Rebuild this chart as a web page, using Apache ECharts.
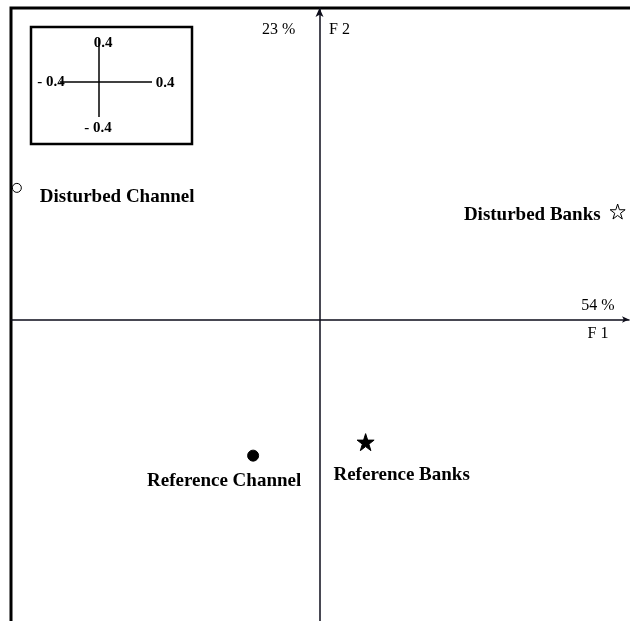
<!DOCTYPE html>
<html>
<head>
<meta charset="utf-8">
<script src="https://cdn.jsdelivr.net/npm/echarts@6/dist/echarts.min.js"></script>
<style>
  html, body { margin: 0; padding: 0; background: #fff; }
  #chart { width: 630px; height: 621px; }
</style>
</head>
<body>
<div id="chart"></div>
<script>
// site scores on the first two factorial axes
const sites = ['Disturbed Channel', 'Disturbed Banks', 'Reference Channel', 'Reference Banks']
const f1 = [-2.69, 2.65, -0.59, 0.41]
const f2 = [1.17, 0.96, -1.21, -1.09]
const axisNames = ['F 1', 'F 2']
const inertia = ['54 %', '23 %']
const scaleTicks = ['0.4', '- 0.4', '0.4', '- 0.4'] // top, left, right, bottom

const serif = '"Liberation Serif", "Times New Roman", serif'
const ink = '#0d0d1a'

const starPath = 'path://M50,0 L61.8,35.4 L98.9,35.4 L68.9,57.3 L80.4,92.7 L50,70.8 L19.6,92.7 L31.1,57.3 L1.1,35.4 L38.2,35.4 Z'

// marker + label look per site
const looks = [
  { symbol: 'circle', size: 9, fill: '#fff', align: 'left', offset: [23, 9] },
  { symbol: starPath, size: 15, fill: '#fff', align: 'right', offset: [-17, 4] },
  { symbol: 'circle', size: 11, fill: '#000', align: 'center', offset: [-29, 25] },
  { symbol: starPath, size: 17, fill: '#000', align: 'center', offset: [36, 33] }
]

const points = sites.map(function(name, i) {
  const lk = looks[i]
  return {
    name: name,
    value: [f1[i], f2[i]],
    symbol: lk.symbol,
    symbolSize: lk.size,
    itemStyle: { color: lk.fill, borderColor: '#000', borderWidth: 1, opacity: 1 },
    label: {
      show: true,
      position: 'inside',
      formatter: '{b}',
      align: lk.align,
      verticalAlign: 'middle',
      offset: lk.offset,
      color: '#000',
      opacity: 1,
      fontFamily: serif,
      fontWeight: 'bold',
      fontSize: 19
    }
  }
})

const chart = echarts.init(document.getElementById('chart'))

chart.setOption({
  animation: false,
  backgroundColor: '#fff',
  grid: { left: 11, top: 8, right: 1, bottom: 0 },
  xAxis: {
    type: 'value',
    min: -2.742,
    max: 2.751,
    splitLine: { show: false },
    axisTick: { show: false },
    axisLabel: { show: false },
    axisLine: {
      onZero: true,
      symbol: ['none', 'arrow'],
      symbolSize: [5, 7],
      lineStyle: { color: ink, width: 1.5 }
    },
    name: inertia[0] + '\n' + axisNames[0],
    nameLocation: 'end',
    nameGap: -31,
    nameTextStyle: {
      fontFamily: serif,
      fontSize: 16,
      color: '#000',
      align: 'center',
      verticalAlign: 'middle',
      lineHeight: 28
    }
  },
  yAxis: {
    type: 'value',
    min: -2.68,
    max: 2.769,
    splitLine: { show: false },
    axisTick: { show: false },
    axisLabel: { show: false },
    axisLine: {
      onZero: true,
      symbol: ['none', 'arrow'],
      symbolSize: [6, 9],
      lineStyle: { color: ink, width: 1.5 }
    },
    name: '{a|' + inertia[1] + '}{b|' + axisNames[1] + '}',
    nameLocation: 'end',
    nameGap: -22,
    nameTextStyle: {
      fontFamily: serif,
      fontSize: 16,
      color: '#000',
      align: 'center',
      verticalAlign: 'middle',
      rich: {
        a: { width: 57, align: 'left', fontFamily: serif, fontSize: 16, color: '#000' },
        b: { width: 48, align: 'left', fontFamily: serif, fontSize: 16, color: '#000', padding: [0, 0, 0, 10] }
      }
    }
  },
  series: [{
    type: 'scatter',
    clip: false,
    data: points
  }],
  graphic: [
    // outer frame (top and left sides only)
    {
      type: 'polyline',
      shape: { points: [[11, 621], [11, 8], [630, 8]] },
      style: { stroke: '#000', lineWidth: 3, fill: null }
    },
    // scale inset
    {
      type: 'rect',
      shape: { x: 31, y: 27, width: 161, height: 117 },
      style: { stroke: '#000', lineWidth: 2.5, fill: '#fff' }
    },
    {
      type: 'line',
      shape: { x1: 60, y1: 82, x2: 152, y2: 82 },
      style: { stroke: '#000', lineWidth: 1.5 }
    },
    {
      type: 'line',
      shape: { x1: 99, y1: 38, x2: 99, y2: 117 },
      style: { stroke: '#000', lineWidth: 1.5 }
    },
    { type: 'text', x: 103, y: 43, style: { text: scaleTicks[0], font: 'bold 15px ' + serif, fill: '#000', align: 'center', verticalAlign: 'middle' } },
    { type: 'text', x: 51, y: 82, style: { text: scaleTicks[1], font: 'bold 15px ' + serif, fill: '#000', align: 'center', verticalAlign: 'middle' } },
    { type: 'text', x: 165, y: 83, style: { text: scaleTicks[2], font: 'bold 15px ' + serif, fill: '#000', align: 'center', verticalAlign: 'middle' } },
    { type: 'text', x: 98, y: 128, style: { text: scaleTicks[3], font: 'bold 15px ' + serif, fill: '#000', align: 'center', verticalAlign: 'middle' } }
  ]
})
</script>
</body>
</html>
